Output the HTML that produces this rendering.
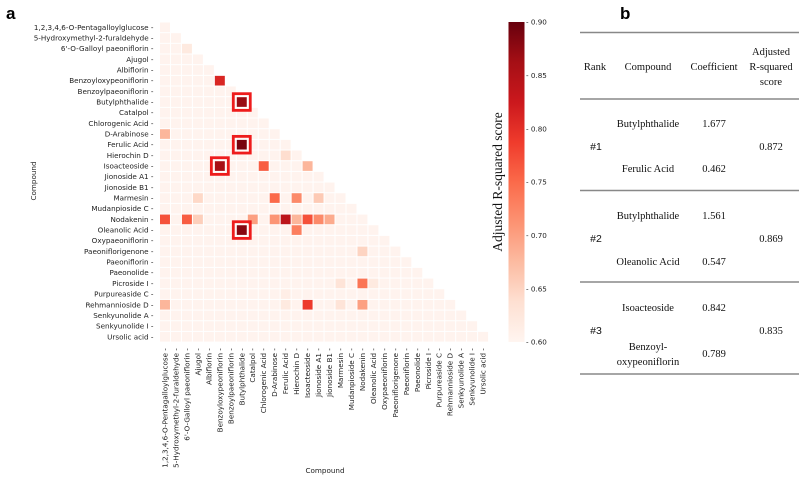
<!DOCTYPE html>
<html><head><meta charset="utf-8"><style>
body{margin:0;background:#fff;width:800px;height:478px;overflow:hidden}
svg{display:block}
.tk{font-family:"DejaVu Sans","Liberation Sans",sans-serif;font-size:7.2px;fill:#222}
.sf{font-family:"Liberation Serif",serif;font-size:10.5px;fill:#111}
</style></head><body>
<svg id="chart" width="800" height="478" viewBox="0 0 800 478" xmlns="http://www.w3.org/2000/svg">
<defs><linearGradient id="cbg" x1="0" y1="1" x2="0" y2="0">
<stop offset="0" stop-color="#fff5f0"/><stop offset="0.125" stop-color="#fee0d2"/><stop offset="0.25" stop-color="#fcbba1"/><stop offset="0.375" stop-color="#fc9272"/><stop offset="0.5" stop-color="#fb6a4a"/><stop offset="0.625" stop-color="#ef3b2c"/><stop offset="0.75" stop-color="#cb181d"/><stop offset="0.875" stop-color="#a50f15"/><stop offset="1" stop-color="#67000d"/></linearGradient></defs>
<text x="6" y="19" font-family="Liberation Sans,sans-serif" font-weight="bold" font-size="17">a</text>
<text x="620" y="19" font-family="Liberation Sans,sans-serif" font-weight="bold" font-size="17">b</text>
<g id="heat"></g>
<g id="yt"></g>
<g id="xt"></g>
<g id="hl"></g>
<text class="tk" x="325" y="473" text-anchor="middle">Compound</text>
<text class="tk" transform="translate(36,181) rotate(-90)" text-anchor="middle">Compound</text>
<rect x="508.5" y="22" width="16" height="320" fill="url(#cbg)"/>
<g id="cbt"></g>
<text transform="translate(502,182) rotate(-90)" text-anchor="middle" font-family="Liberation Serif,serif" font-size="13.5" fill="#111">Adjusted R-squared score</text>
<g>
<g stroke="#888" stroke-width="1.5">
<line x1="580" y1="32.5" x2="799" y2="32.5"/><line x1="580" y1="99" x2="799" y2="99"/><line x1="580" y1="190.5" x2="799" y2="190.5"/><line x1="580" y1="282" x2="799" y2="282"/><line x1="580" y1="374" x2="799" y2="374"/></g>
<g class="sf" text-anchor="middle">
<text x="595" y="70">Rank</text>
<text x="648" y="70">Compound</text>
<text x="714" y="70">Coefficient</text>
<text x="771" y="55">Adjusted</text>
<text x="771" y="70">R-squared</text>
<text x="771" y="85">score</text>
<text x="596" y="150" font-family="Liberation Sans,sans-serif">#1</text>
<text x="648" y="127">Butylphthalide</text>
<text x="714" y="127">1.677</text>
<text x="648" y="172">Ferulic Acid</text>
<text x="714" y="172">0.462</text>
<text x="771" y="150">0.872</text>
<text x="596" y="242" font-family="Liberation Sans,sans-serif">#2</text>
<text x="648" y="219">Butylphthalide</text>
<text x="714" y="219">1.561</text>
<text x="648" y="265">Oleanolic Acid</text>
<text x="714" y="265">0.547</text>
<text x="771" y="242">0.869</text>
<text x="596" y="334" font-family="Liberation Sans,sans-serif">#3</text>
<text x="648" y="311">Isoacteoside</text>
<text x="714" y="311">0.842</text>
<text x="648" y="350">Benzoyl-</text>
<text x="648" y="365">oxypeoniflorin</text>
<text x="714" y="357">0.789</text>
<text x="771" y="334">0.835</text>
</g></g>
</svg>
<script>
const compounds=["1,2,3,4,6-O-Pentagalloylglucose","5-Hydroxymethyl-2-furaldehyde","6'-O-Galloyl paeoniflorin","Ajugol","Albiflorin","Benzoyloxypeoniflorin","Benzoylpaeoniflorin","Butylphthalide","Catalpol","Chlorogenic Acid","D-Arabinose","Ferulic Acid","Hierochin D","Isoacteoside","Jionoside A1","Jionoside B1","Marmesin","Mudanpioside C","Nodakenin","Oleanolic Acid","Oxypaeoniflorin","Paeoniflorigenone","Paeoniflorin","Paeonolide","Picroside I","Purpureaside C","Rehmannioside D","Senkyunolide A","Senkyunolide I","Ursolic acid"];
const baseValue=0.603;
const hotRows=[2,5,7,10,11,12,13,13,13,16,16,16,16,18,18,18,18,18,18,18,18,18,18,19,19,21,24,24,24,25,26,26,26,26,26];
const hotCols=[2,5,7,0,7,11,5,9,13,3,10,12,14,0,2,3,8,10,11,12,13,14,15,7,12,18,16,18,19,11,0,11,13,16,18];
const hotVals=[0.62,0.81,0.87,0.68,0.89,0.64,0.86,0.76,0.68,0.645,0.75,0.72,0.66,0.77,0.76,0.655,0.70,0.71,0.84,0.68,0.77,0.72,0.69,0.88,0.73,0.65,0.63,0.74,0.62,0.612,0.68,0.62,0.79,0.63,0.70];
const boxRows=[7,11,13,19];
const boxCols=[7,7,5,7];
const cbTicks=[0.60,0.65,0.70,0.75,0.80,0.85,0.90];
const vmin=0.6,vmax=0.9;
const X0=159.5,PX=10.97,Y0=22,PY=10.67,CB0=342,CB1=22;
const xs=c=>X0+c*PX, ys=r=>Y0+r*PY;
const cbY=v=>CB0+(v-vmin)/(vmax-vmin)*(CB1-CB0);
const stops=[[255,245,240],[254,224,210],[252,187,161],[252,146,114],[251,106,74],[239,59,44],[203,24,29],[165,15,21],[103,0,13]];
function color(v){let t=Math.max(0,Math.min(1,(v-vmin)/(vmax-vmin)))*8;let i=Math.min(7,Math.floor(t)),f=t-i;const a=stops[i],b=stops[i+1];return `rgb(${a.map((x,k)=>Math.round(x+(b[k]-x)*f)).join(',')})`;}
const NS="http://www.w3.org/2000/svg";
function mk(tag,attrs,parent){const e=document.createElementNS(NS,tag);for(const k in attrs)e.setAttribute(k,attrs[k]);parent.appendChild(e);return e;}
const heat=document.getElementById('heat');
const n=compounds.length;
const vals=[];for(let r=0;r<n;r++){vals.push([]);for(let c=0;c<=r;c++)vals[r].push(baseValue);}
hotRows.forEach((r,i)=>{vals[r][hotCols[i]]=hotVals[i];});
for(let r=0;r<n;r++)for(let c=0;c<=r;c++){
 const e=mk('rect',{x:xs(c)+0.5,y:ys(r)+0.5,width:PX-1,height:PY-1,fill:color(vals[r][c])},heat);
 
 
}
const yt=document.getElementById('yt'),xt=document.getElementById('xt');
compounds.forEach((name,i)=>{
 const t=mk('text',{x:X0-6,y:ys(i)+PY/2+2.5,'text-anchor':'end','class':'tk'},yt);t.textContent=name+' -';
 
 
 const cx=xs(i)+PX/2+2.5;
 const u=mk('text',{transform:`translate(${cx},${ys(n)+6}) rotate(-90)`,'text-anchor':'end','class':'tk'},xt);u.textContent=name+' -';
 
 
});
const hl=document.getElementById('hl');
boxRows.forEach((r,i)=>{
 const e=mk('rect',{x:xs(boxCols[i])-3,y:ys(r)-3,width:PX+6,height:PY+6,fill:'none',stroke:'#ee1c1c','stroke-width':2.8},hl);
 
 
});
const cbt=document.getElementById('cbt');
cbTicks.forEach(v=>{
 const t=mk('text',{x:526,y:cbY(v)+2.6,'class':'tk'},cbt);t.textContent='- '+v.toFixed(2);
 
 
});
</script>
</body></html>
